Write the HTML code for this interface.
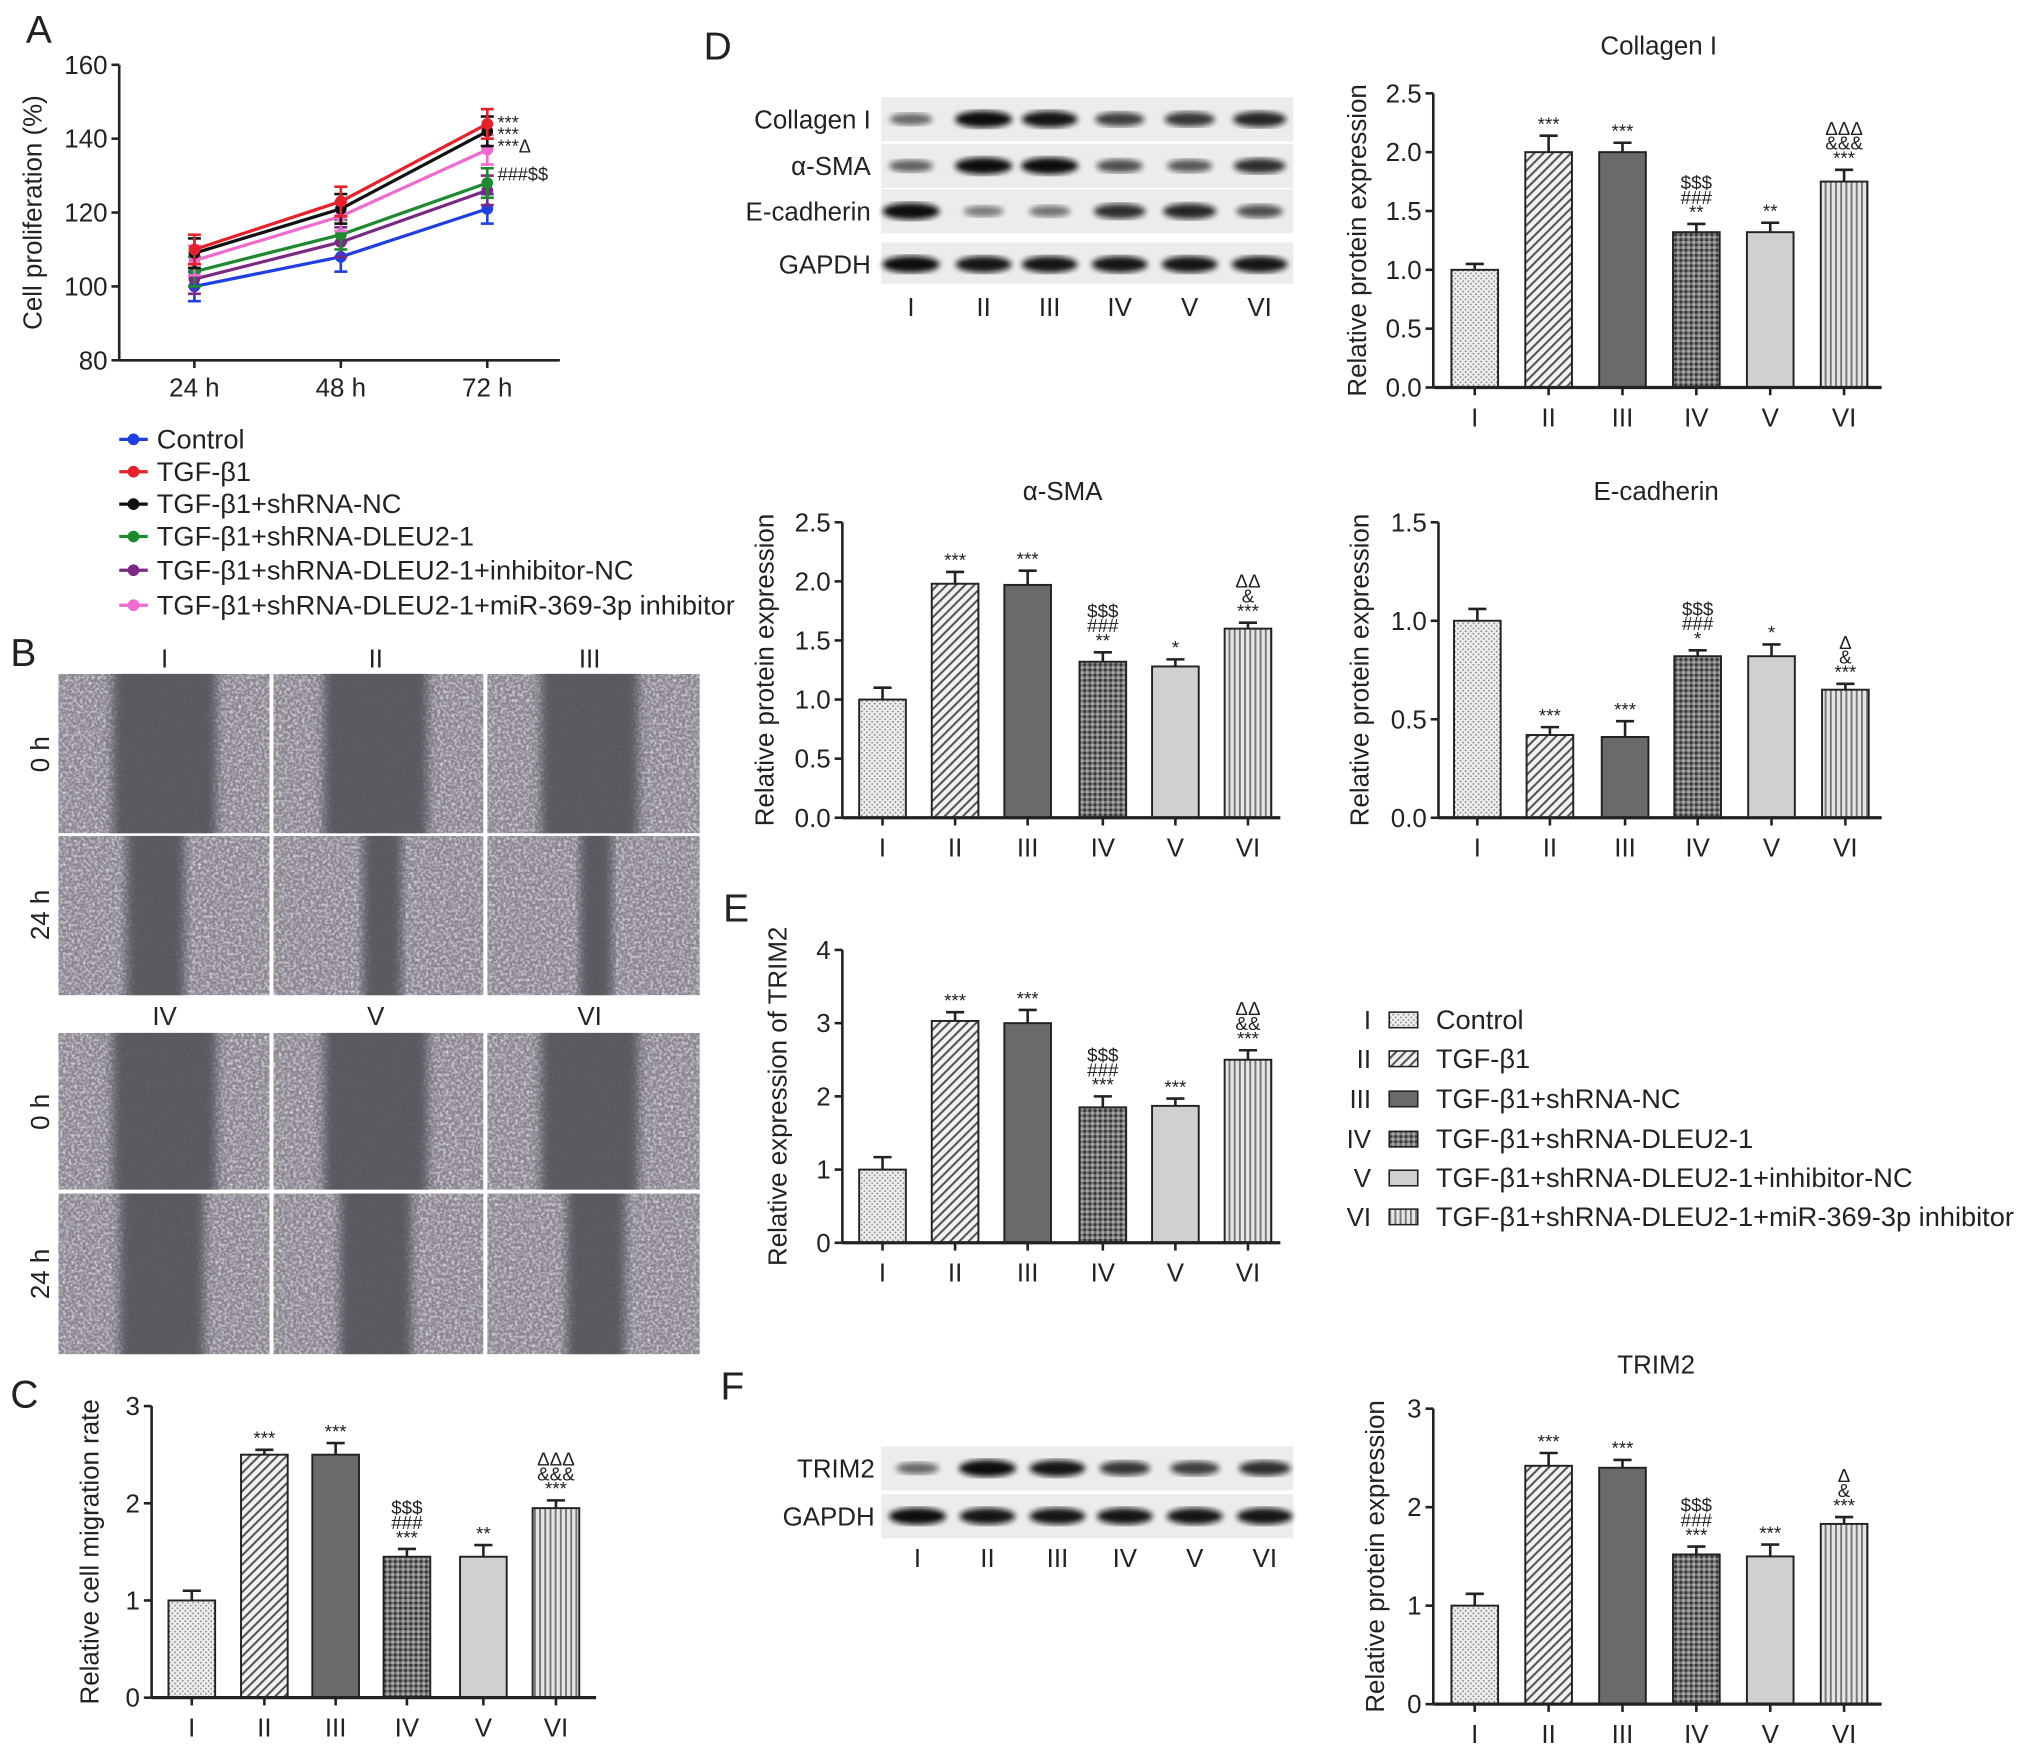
<!DOCTYPE html>
<html><head><meta charset="utf-8"><style>
html,body{margin:0;padding:0;background:#fff}
svg{display:block}
text{font-family:"Liberation Sans",sans-serif;fill:#222}
</style></head><body>
<svg id="fig" width="2032" height="1756" viewBox="0 0 1568 1355" xmlns="http://www.w3.org/2000/svg">
<defs>
<pattern id="pI" width="4" height="4" patternUnits="userSpaceOnUse"><rect width="4" height="4" fill="#eee"/><circle cx="1" cy="1" r="0.7" fill="#888"/><circle cx="3" cy="3" r="0.7" fill="#888"/></pattern>
<pattern id="pII" width="5" height="5" patternUnits="userSpaceOnUse" patternTransform="rotate(45)"><rect width="5" height="5" fill="#f2f2f2"/><rect width="1.6" height="5" fill="#555"/></pattern>
<pattern id="pIII" width="4" height="4" patternUnits="userSpaceOnUse"><rect width="4" height="4" fill="#6a6a6a"/></pattern>
<pattern id="pIV" width="4" height="4" patternUnits="userSpaceOnUse"><rect width="4" height="4" fill="#777"/><rect width="2" height="2" fill="#333"/><rect x="2" y="2" width="2" height="2" fill="#aaa"/></pattern>
<pattern id="pV" width="4" height="4" patternUnits="userSpaceOnUse"><rect width="4" height="4" fill="#d0d0d0"/></pattern>
<pattern id="pVI" width="4" height="4" patternUnits="userSpaceOnUse"><rect width="4" height="4" fill="#e6e6e6"/><rect width="1.5" height="4" fill="#777"/></pattern>
<filter id="noise" x="0" y="0" width="100%" height="100%"><feTurbulence type="fractalNoise" baseFrequency="0.45" numOctaves="2" seed="3"/><feColorMatrix type="matrix" values="0 0 0 0 0.96  0 0 0 0 0.94  0 0 0 0 0.97  0 0 0 -1.8 1.1"/></filter>
<filter id="blur"><feGaussianBlur stdDeviation="2.2"/></filter>
<filter id="soft"><feGaussianBlur stdDeviation="4"/></filter>
</defs>
<g id="root"></g>
</svg>
<script>
const NS="http://www.w3.org/2000/svg";
const root=document.getElementById('root');
function el(tag,attrs,parent,txt){const e=document.createElementNS(NS,tag);for(const k in attrs)e.setAttribute(k,attrs[k]);if(txt!==undefined)e.textContent=txt;(parent||root).appendChild(e);return e;}

// ---------- Panel A data ----------
const timeLabels=["24 h","48 h","72 h"];
const seriesNames=["Control","TGF-β1","TGF-β1+shRNA-NC","TGF-β1+shRNA-DLEU2-1","TGF-β1+shRNA-DLEU2-1+inhibitor-NC","TGF-β1+shRNA-DLEU2-1+miR-369-3p inhibitor"];
const seriesColors=["#1f3fe0","#e8202a","#111111","#1e8a2e","#7a2a84","#f06ad0"];
const sControl=[100,108,121];
const sTGF=[110,123,144];
const sShNC=[109,121,142];
const sShD=[104,114,128];
const sInhNC=[102,112,126];
const sMiR=[107,119,137];
const sErr=[4,4,4];
const aTicks=[80,100,120,140,160];

// ---------- Bar data ----------
const romans=["I","II","III","IV","V","VI"];
const migVals=[1.0,2.5,2.5,1.45,1.45,1.95];
const migErr=[0.1,0.05,0.12,0.08,0.12,0.08];
const colVals=[1.0,2.0,2.0,1.32,1.32,1.75];
const colErr=[0.05,0.14,0.08,0.07,0.08,0.1];
const smaVals=[1.0,1.98,1.97,1.32,1.28,1.6];
const smaErr=[0.1,0.1,0.12,0.08,0.06,0.05];
const ecadVals=[1.0,0.42,0.41,0.82,0.82,0.65];
const ecadErr=[0.06,0.04,0.08,0.03,0.06,0.03];
const trimVals=[1.0,3.03,3.0,1.85,1.87,2.5];
const trimErr=[0.17,0.12,0.18,0.15,0.1,0.13];
const trimPVals=[1.0,2.42,2.4,1.52,1.5,1.83];
const trimPErr=[0.12,0.13,0.08,0.08,0.12,0.07];
const annMig=[[],["***"],["***"],["***","###","$$$"],["**"],["***","&&&","ΔΔΔ"]];
const annCol=[[],["***"],["***"],["**","###","$$$"],["**"],["***","&&&","ΔΔΔ"]];
const annSma=[[],["***"],["***"],["**","###","$$$"],["*"],["***","&","ΔΔ"]];
const annEcad=[[],["***"],["***"],["*","###","$$$"],["*"],["***","&","Δ"]];
const annTrim=[[],["***"],["***"],["***","###","$$$"],["***"],["***","&&","ΔΔ"]];
const annTrimP=[[],["***"],["***"],["***","###","$$$"],["***"],["***","&","Δ"]];

[["A",20,33],["B",8,514],["C",8,1086],["D",543,46],["E",558,711],["F",556,1080]].forEach(p=>{
  const t=el('text',{x:p[1],y:p[2],'font-size':30},root,p[0]);
  
  
});

// ---------- Panel A ----------
(function(){
  const g=el('g',{});
  
  
  const x0=92,x1=432,yTop=50,yBot=278,vmin=80,vmax=160;
  const xs=[150,263,376];
  const Y=v=>yBot-(v-vmin)/(vmax-vmin)*(yBot-yTop);
  el('line',{x1:x0,y1:yTop,x2:x0,y2:yBot,stroke:'#222','stroke-width':2},g);
  el('line',{x1:x0,y1:yBot,x2:x1,y2:yBot,stroke:'#222','stroke-width':2},g);
  aTicks.forEach(t=>{el('line',{x1:x0-6,y1:Y(t),x2:x0,y2:Y(t),stroke:'#222','stroke-width':2},g);
    el('text',{x:x0-9,y:Y(t)+7,'font-size':20,'text-anchor':'end'},g,t);});
  timeLabels.forEach((l,i)=>{el('line',{x1:xs[i],y1:yBot,x2:xs[i],y2:yBot+6,stroke:'#222','stroke-width':2},g);
    el('text',{x:xs[i],y:yBot+28,'font-size':20,'text-anchor':'middle'},g,l);});
  const yl=el('text',{x:0,y:0,'font-size':20,'text-anchor':'middle',transform:`translate(32,${(yTop+yBot)/2}) rotate(-90)`},g,'Cell proliferation (%)');
  
  
  const all=[sControl,sTGF,sShNC,sShD,sInhNC,sMiR];
  const order=[0,4,3,5,2,1];
  order.forEach(si=>{
    const s=all[si],c=seriesColors[si];
    const sg=el('g',{},g);
    
    
    el('polyline',{points:s.map((v,i)=>xs[i]+','+Y(v)).join(' '),fill:'none',stroke:c,'stroke-width':2.5},sg);
    s.forEach((v,i)=>{
      el('line',{x1:xs[i],y1:Y(v+sErr[i]),x2:xs[i],y2:Y(v-sErr[i]),stroke:c,'stroke-width':2},sg);
      el('line',{x1:xs[i]-5,y1:Y(v+sErr[i]),x2:xs[i]+5,y2:Y(v+sErr[i]),stroke:c,'stroke-width':2},sg);
      el('line',{x1:xs[i]-5,y1:Y(v-sErr[i]),x2:xs[i]+5,y2:Y(v-sErr[i]),stroke:c,'stroke-width':2},sg);
      el('circle',{cx:xs[i],cy:Y(v),r:4.5,fill:c},sg);
    });
  });
  el('text',{x:384,y:Y(sTGF[2])+4,'font-size':14},g,'***');
  el('text',{x:384,y:Y(sShNC[2])+7,'font-size':14},g,'***');
  el('text',{x:384,y:Y(sMiR[2])+2,'font-size':14},g,'***Δ');
  el('text',{x:384,y:Y(sShD[2])-2,'font-size':14},g,'###$$');
  const ly=[339,364,389,414,440,467];
  seriesNames.forEach((n,i)=>{
    const lg=el('g',{},g);
    
    
    el('line',{x1:92,y1:ly[i],x2:114,y2:ly[i],stroke:seriesColors[i],'stroke-width':2.5},lg);
    el('circle',{cx:103,cy:ly[i],r:4.5,fill:seriesColors[i]},lg);
    el('text',{x:121,y:ly[i]+7,'font-size':21},lg,n);
  });
})();

// ---------- Panel B microscopy ----------
(function(){
  const g=el('g',{});
  
  
  const cols=[[45,208],[211,373],[376,540]];
  const rows=[[520,643],[645,768],[797,918],[921,1045]];
  const gapW=[[80,80,75],[45,30,25],[80,80,75],[65,55,45]];
  const centers=[[127,290,455],[120,295,460],[127,290,455],[125,290,460]];
  rows.forEach((r,ri)=>cols.forEach((c,ci)=>{
    const w=c[1]-c[0],h=r[1]-r[0];
    const cid='clip'+ri+'_'+ci;
    const cp=el('clipPath',{id:cid},g);
    el('rect',{x:c[0],y:r[0],width:w,height:h},cp);
    const cg=el('g',{'clip-path':'url(#'+cid+')'},g);
    el('rect',{x:c[0],y:r[0],width:w,height:h,fill:'#8a8590'},cg);
    el('rect',{x:c[0],y:r[0],width:w,height:h,filter:'url(#noise)',opacity:0.85},cg);
    const gw=gapW[ri][ci];
    el('rect',{x:centers[ri][ci]-gw/2,y:r[0]-10,width:gw,height:h+20,fill:'#55555a',opacity:0.92,filter:'url(#soft)'},cg);
  }));
  ["I","II","III"].forEach((l,i)=>el('text',{x:[127,290,455][i],y:515,'font-size':20,'text-anchor':'middle'},g,l));
  ["IV","V","VI"].forEach((l,i)=>el('text',{x:[127,290,455][i],y:791,'font-size':20,'text-anchor':'middle'},g,l));
  [["0 h",582],["24 h",706],["0 h",858],["24 h",983]].forEach(p=>el('text',{x:0,y:0,'font-size':20,'text-anchor':'middle',transform:`translate(38,${p[1]}) rotate(-90)`},g,p[0]));
})();

function barChart(name,cfg,vals,errs,ann){
  const g=el('g',{});
  
  
  const {x0,x1,yTop,yBot,vmax,ticks,xs,ylabel,ylx,title,tx,ty,dec}=cfg;
  const Y=v=>yBot-v/vmax*(yBot-yTop);
  const bw=36;
  vals.forEach((v,i)=>{
    const b=el('rect',{x:xs[i]-bw/2,y:Y(v),width:bw,height:yBot-Y(v),fill:'url(#p'+romans[i]+')',stroke:'#222','stroke-width':1.5},g);
    
    
    const e=errs[i];
    el('line',{x1:xs[i],y1:Y(v),x2:xs[i],y2:Y(v+e),stroke:'#222','stroke-width':2},g);
    el('line',{x1:xs[i]-7,y1:Y(v+e),x2:xs[i]+7,y2:Y(v+e),stroke:'#222','stroke-width':2},g);
    ann[i].forEach((a,k)=>el('text',{x:xs[i],y:Y(v+e)-4-k*11.5,'font-size':14.5,'text-anchor':'middle'},g,a));
  });
  el('line',{x1:x0,y1:yTop,x2:x0,y2:yBot,stroke:'#222','stroke-width':2},g);
  el('line',{x1:x0,y1:yBot,x2:x1,y2:yBot,stroke:'#222','stroke-width':2.5},g);
  ticks.forEach(t=>{el('line',{x1:x0-6,y1:Y(t),x2:x0,y2:Y(t),stroke:'#222','stroke-width':2},g);
    el('text',{x:x0-9,y:Y(t)+7,'font-size':20,'text-anchor':'end'},g,t.toFixed(dec));});
  romans.forEach((r,i)=>{el('line',{x1:xs[i],y1:yBot,x2:xs[i],y2:yBot+6,stroke:'#222','stroke-width':2},g);
    el('text',{x:xs[i],y:yBot+30,'font-size':20,'text-anchor':'middle'},g,r);});
  const yl=el('text',{x:0,y:0,'font-size':20,'text-anchor':'middle',transform:`translate(${ylx},${(yTop+yBot)/2}) rotate(-90)`},g,ylabel);
  
  
  if(title){const t=el('text',{x:tx,y:ty,'font-size':20,'text-anchor':'middle'},g,title);
    
    }
}
const RPE='Relative protein expression';
barChart('migration-chart',{x0:117,x1:460,yTop:1085,yBot:1310,vmax:3,ticks:[0,1,2,3],xs:[148,204,259,314,373,429],ylabel:'Relative cell migration rate',ylx:76,dec:0},migVals,migErr,annMig);
barChart('collagen-chart',{x0:1106,x1:1452,yTop:72,yBot:299,vmax:2.5,ticks:[0,0.5,1,1.5,2,2.5],xs:[1138,1195,1252,1309,1366,1423],ylabel:RPE,ylx:1054,title:'Collagen I',tx:1280,ty:42,dec:1},colVals,colErr,annCol);
barChart('asma-chart',{x0:650,x1:988,yTop:403,yBot:631,vmax:2.5,ticks:[0,0.5,1,1.5,2,2.5],xs:[681,737,793,851,907,963],ylabel:RPE,ylx:597,title:'α-SMA',tx:820,ty:386,dec:1},smaVals,smaErr,annSma);
barChart('ecadherin-chart',{x0:1110,x1:1452,yTop:403,yBot:631,vmax:1.5,ticks:[0,0.5,1,1.5],xs:[1140,1196,1254,1310,1367,1424],ylabel:RPE,ylx:1056,title:'E-cadherin',tx:1278,ty:386,dec:1},ecadVals,ecadErr,annEcad);
barChart('trim2-mrna-chart',{x0:650,x1:988,yTop:733,yBot:959,vmax:4,ticks:[0,1,2,3,4],xs:[681,737,793,851,907,963],ylabel:'Relative expression of TRIM2',ylx:607,dec:0},trimVals,trimErr,annTrim);
barChart('trim2-protein-chart',{x0:1106,x1:1452,yTop:1087,yBot:1315,vmax:3,ticks:[0,1,2,3],xs:[1138,1195,1252,1309,1366,1423],ylabel:RPE,ylx:1068,title:'TRIM2',tx:1278,ty:1060,dec:0},trimPVals,trimPErr,annTrimP);

(function(){
  const ly=[787,817,848,879,909,939];
  const names=["Control","TGF-β1","TGF-β1+shRNA-NC","TGF-β1+shRNA-DLEU2-1","TGF-β1+shRNA-DLEU2-1+inhibitor-NC","TGF-β1+shRNA-DLEU2-1+miR-369-3p inhibitor"];
  names.forEach((n,i)=>{
    const g=el('g',{});
    
    
    el('text',{x:1058,y:ly[i]+7,'font-size':20,'text-anchor':'end'},g,romans[i]);
    el('rect',{x:1072,y:ly[i]-6,width:22,height:12,fill:'url(#p'+romans[i]+')',stroke:'#222','stroke-width':1.2},g);
    el('text',{x:1108,y:ly[i]+7,'font-size':21},g,n);
  });
})();

const blotD=[["Collagen I",[0.45,1,0.95,0.7,0.75,0.85],92],["α-SMA",[0.5,1,1,0.6,0.55,0.8],128],["E-cadherin",[1,0.35,0.4,0.8,0.85,0.6],163],["GAPDH",[1,0.95,0.95,0.95,0.95,0.95],204]];
const blotF=[["TRIM2",[0.45,1,0.95,0.75,0.7,0.8],1133],["GAPDH",[1,0.95,0.95,0.95,0.95,0.95],1170]];
function blots(name,rows,lanes,labX,laneY,boxes){
  const g=el('g',{});
  
  
  boxes.forEach(b=>el('rect',{x:680,y:b[0],width:318,height:b[1],fill:'#ececec'},g));
  rows.forEach(r=>{
    el('text',{x:labX,y:r[2]+7,'font-size':20,'text-anchor':'end'},g,r[0]);
    r[1].forEach((v,i)=>{
      const b=el('ellipse',{cx:lanes[i],cy:r[2],rx:12+10*v,ry:3+3.5*v,fill:'#111',opacity:0.25+0.75*v,filter:'url(#blur)'},g);
      
      
    });
  });
  romans.forEach((r,i)=>el('text',{x:lanes[i],y:laneY,'font-size':20,'text-anchor':'middle'},g,r));
}
blots('western-blot-d',blotD,[703,759,810,864,918,972],672,244,[[75,34],[111,34],[146,34],[187,32]]);
blots('western-blot-f',blotF,[708,762,816,868,922,976],675,1209,[[1116,34],[1153,34]]);
</script>
</body></html>
